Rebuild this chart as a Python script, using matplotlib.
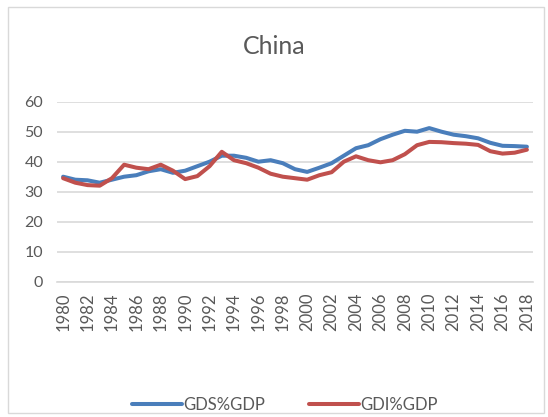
import matplotlib
matplotlib.use("Agg")
import matplotlib.pyplot as plt
from matplotlib.patches import Rectangle

years = list(range(1980, 2019))
gds = [35.0, 34.0, 33.8, 33.0, 34.0, 35.0, 35.5, 36.8, 37.5, 36.3, 37.0, 38.5, 40.0, 42.0, 42.0, 41.3, 40.0, 40.5, 39.5, 37.5, 36.6, 38.0, 39.5, 42.0, 44.5, 45.5, 47.5, 49.0, 50.3, 50.0, 51.2, 50.0, 49.0, 48.5, 47.8, 46.3, 45.3, 45.2, 45.0]
gdi = [34.5, 33.0, 32.2, 32.0, 34.5, 39.0, 38.0, 37.5, 39.0, 37.0, 34.2, 35.2, 38.5, 43.3, 40.5, 39.5, 38.0, 36.0, 35.0, 34.5, 34.0, 35.5, 36.5, 40.0, 41.8, 40.5, 39.8, 40.5, 42.5, 45.5, 46.6, 46.5, 46.2, 46.0, 45.6, 43.5, 42.7, 43.0, 44.0]
xlabels = [str(y) for y in years[::2]]
yticks = [0, 10, 20, 30, 40, 50, 60]

plt.rcParams['font.family'] = ['Lato', 'DejaVu Sans']
fig = plt.figure(figsize=(5.48, 4.17), dpi=100)
ax = fig.add_axes([57/548, 1-281.7/417, (533-57)/548, 180/417])

idx = list(range(len(years)))
ax.plot(idx, gds, color='#4A7EBB', lw=2.9, label='GDS%GDP', solid_capstyle='round')
ax.plot(idx, gdi, color='#C0504D', lw=2.9, label='GDI%GDP', solid_capstyle='round')

ax.set_xlim(-0.5, len(years) - 0.5)
ax.set_ylim(0, 60)
ax.set_yticks(yticks)
ax.set_xticks(idx[::2])
ax.set_xticklabels(xlabels, rotation=90, fontsize=12, color='#595959')
ax.tick_params(axis='y', labelsize=11.5, colors='#595959', length=0, pad=10)
ax.tick_params(axis='x', length=0, pad=8)
ax.grid(axis='y', color='#D9D9D9', lw=1.2)
ax.set_axisbelow(True)
for s in ['top', 'right', 'left']:
    ax.spines[s].set_visible(False)
ax.spines['bottom'].set_color('#D9D9D9')
ax.spines['bottom'].set_linewidth(1.2)

fig.text(274/548, 1-46/417, 'China', ha='center', va='center', fontsize=18, color='#595959')

fig.legend(loc='center', bbox_to_anchor=(285/548, 1-405/417), ncol=2, frameon=False,
           fontsize=12, labelcolor='#595959', handlelength=3.0, handletextpad=0.1,
           columnspacing=2.6)

fig.patches.append(Rectangle((8/548, 4/417), 536/548, 406/417, transform=fig.transFigure,
                             fill=False, edgecolor='#D9D9D9', lw=1))

fig.savefig('out.png', dpi=100)
